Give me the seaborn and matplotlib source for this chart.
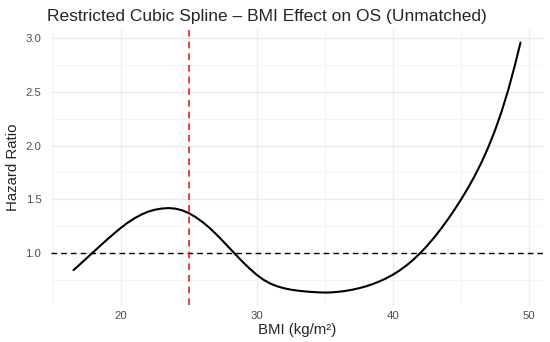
import numpy as np
import pandas as pd
import matplotlib
matplotlib.use("Agg")
import matplotlib.pyplot as plt
from matplotlib.ticker import MultipleLocator
import seaborn as sns

# ── Data ──────────────────────────────────────────────────────────────────────

bmi = [16.5, 17.0, 17.5, 18.0, 18.5, 19.0, 19.5, 20.0, 20.5, 21.0,
       21.5, 22.0, 22.5, 23.0, 23.5, 24.0, 24.5, 25.0, 25.5, 26.0,
       26.5, 27.0, 27.5, 28.0, 28.5, 29.0, 29.5, 30.0, 30.5, 31.0,
       31.5, 32.0, 32.5, 33.0, 33.5, 34.0, 34.5, 35.0, 35.5, 36.0,
       36.5, 37.0, 37.5, 38.0, 38.5, 39.0, 39.5, 40.0, 40.5, 41.0,
       41.5, 42.0, 42.5, 43.0, 43.5, 44.0, 44.5, 45.0, 45.5, 46.0,
       46.5, 47.0, 47.5, 48.0, 48.5, 49.0, 49.4]
hazard_ratio = [0.840, 0.897, 0.955, 1.013, 1.071, 1.128, 1.183, 1.235, 1.283, 1.324,
                1.358, 1.385, 1.403, 1.414, 1.418, 1.413, 1.397, 1.370, 1.333, 1.288,
                1.235, 1.175, 1.110, 1.043, 0.976, 0.911, 0.850, 0.795, 0.749, 0.714,
                0.689, 0.671, 0.658, 0.649, 0.642, 0.637, 0.633, 0.631, 0.633, 0.638,
                0.646, 0.657, 0.671, 0.688, 0.709, 0.734, 0.763, 0.797, 0.837, 0.883,
                0.936, 0.996, 1.063, 1.137, 1.217, 1.303, 1.395, 1.493, 1.598, 1.711,
                1.836, 1.976, 2.134, 2.314, 2.520, 2.755, 2.960]

reference_hr = 1.0
bmi_cutoff = 25

df = pd.DataFrame({"BMI": bmi, "HR": hazard_ratio})

# ── Style ─────────────────────────────────────────────────────────────────────

sns.set_theme(style="whitegrid")
plt.rcParams.update({
    "font.family": ["Liberation Sans", "DejaVu Sans"],
    "figure.facecolor": "white",
    "axes.facecolor": "white",
})

fig = plt.figure(figsize=(5.5, 3.42), dpi=100)
ax = fig.add_axes([0.093, 0.108, 0.894, 0.804])

sns.lineplot(data=df, x="BMI", y="HR", color="black", lw=1.5, ax=ax)
ax.axhline(reference_hr, color="black", ls=(0, (4, 3)), lw=1.0)
ax.axvline(bmi_cutoff, color="#E8201A", ls=(0, (4, 3)), lw=1.2)

ax.margins(x=0.05, y=0.05)

ax.xaxis.set_major_locator(MultipleLocator(10))
ax.xaxis.set_minor_locator(MultipleLocator(5))
ax.yaxis.set_major_locator(MultipleLocator(0.5))
ax.yaxis.set_minor_locator(MultipleLocator(0.25))
ax.set_yticks([1.0, 1.5, 2.0, 2.5, 3.0])

ax.grid(which="major", color="#EBEBEB", lw=1.0)
ax.grid(which="minor", color="#F3F3F3", lw=0.6)
ax.set_axisbelow(True)
for s in ax.spines.values():
    s.set_visible(False)

ax.tick_params(which="both", length=0, labelsize=8.2, labelcolor="#4D4D4D")
ax.tick_params(axis="y", pad=7)
ax.tick_params(axis="x", pad=4)

ax.set_xlabel("BMI (kg/m²)", fontsize=10.8, labelpad=2)
ax.set_ylabel("Hazard Ratio", fontsize=10.8, labelpad=4)

fig.text(47 / 550, 1 - 16 / 342, "Restricted Cubic Spline – BMI Effect on OS (Unmatched)",
         ha="left", va="center", fontsize=12.5)

fig.savefig("out.png", dpi=100)
